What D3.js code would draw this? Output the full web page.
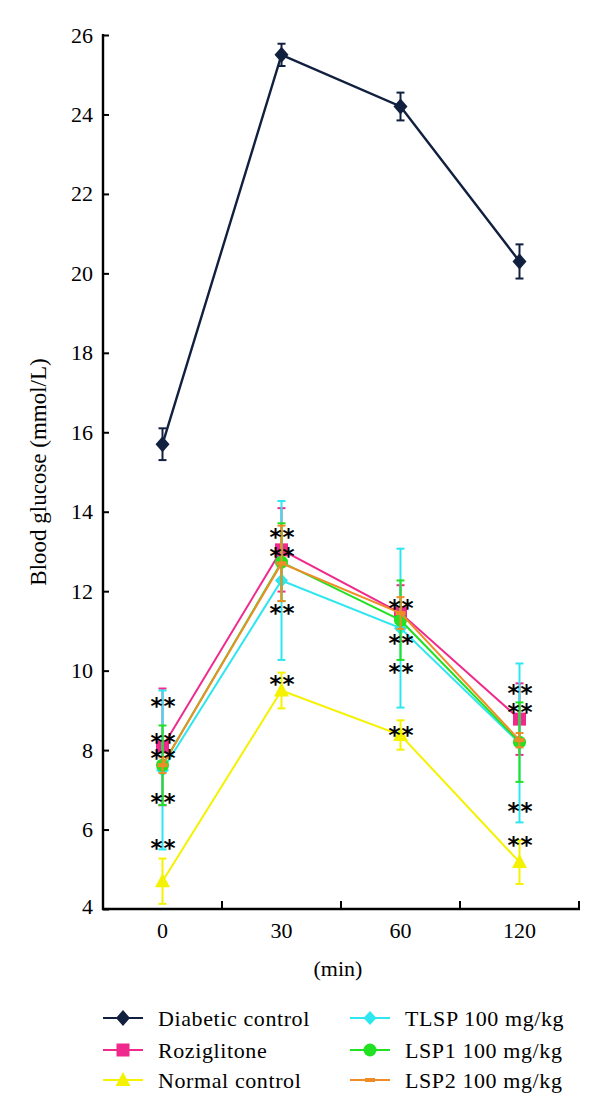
<!DOCTYPE html>
<html><head><meta charset="utf-8">
<script src="https://cdn.jsdelivr.net/npm/d3@7/dist/d3.min.js"></script>
<style>body{margin:0;background:#fff}svg{display:block}</style>
</head><body>
<svg id="c" width="600" height="1115"></svg>
<script>
// ---- data ----
const timeLabels = ["0", "30", "60", "120"];
const yTicks = [4, 6, 8, 10, 12, 14, 16, 18, 20, 22, 24, 26];
const seriesNames = ["Diabetic control", "Roziglitone", "Normal control", "TLSP 100 mg/kg", "LSP1 100 mg/kg", "LSP2 100 mg/kg"];
const diabetic = [15.7, 25.5, 24.2, 20.3];
const diabeticErr = [0.4, 0.28, 0.35, 0.43];
const roziglitone = [8.08, 13.04, 11.45, 8.78];
const roziglitoneErr = [1.47, 1.05, 0.7, 0.9];
const normal = [4.7, 9.5, 8.38, 5.18];
const normalErr = [0.57, 0.45, 0.37, 0.55];
const tlsp = [7.5, 12.27, 11.07, 8.18];
const tlspErr = [2.0, 2.0, 2.0, 2.0];
const lsp1 = [7.62, 12.73, 11.27, 8.2];
const lsp1Err = [1.0, 0.98, 1.0, 1.0];
const lsp2 = [7.62, 12.7, 11.45, 8.25];
const lsp2Err = [0.2, 0.95, 0.4, 0.18];
const annoTimes = ["0","0","0","0","0","30","30","30","30","60","60","60","60","120","120","120","120"];
const annoValues = [9.23, 8.33, 7.93, 6.82, 5.66, 13.49, 13.0, 11.58, 9.79, 11.7, 10.82, 10.09, 8.5, 9.56, 9.08, 6.59, 5.74];

const colors = ["#12203f", "#f02a8c", "#f5f200", "#2de6f0", "#22e022", "#f08c28"];
const shapes = ["diamondL", "square", "triangle", "diamond", "circle", "dash"];
const values = [diabetic, roziglitone, normal, tlsp, lsp1, lsp2];
const errs = [diabeticErr, roziglitoneErr, normalErr, tlspErr, lsp1Err, lsp2Err];
const series = seriesNames.map((n, i) => ({name: n, color: colors[i], shape: shapes[i],
  pts: timeLabels.map((t, j) => ({t, v: values[i][j], e: errs[i][j]}))}));

// ---- layout ----
const svg = d3.select("#c");
const L = 103, R = 579, T = 35, B = 909;
const x = d3.scaleBand().domain(timeLabels).range([L, R]).padding(0);
const y = d3.scaleLinear().domain([4, 26]).range([B, T]);
const cx = t => x(t) + x.bandwidth() / 2;
const serif = "'Liberation Serif','Times New Roman',serif";

// axes
const yAxis = d3.axisLeft(y).tickValues(yTicks).tickSize(-6).tickPadding(10).tickFormat(d3.format("d"));
const gy = svg.append("g").attr("transform", `translate(${L},0)`).call(yAxis);
gy.select(".domain").remove();
gy.selectAll("line").attr("stroke", "#000").attr("stroke-width", 2);
gy.selectAll("text").attr("font-family", serif).attr("font-size", 22).attr("fill", "#000");
gy.selectAll(".tick").filter(d => d === 4).select("text").attr("dy", "0.2em");
svg.append("line").attr("x1", L).attr("x2", L).attr("y1", T - 1).attr("y2", B + 1).attr("stroke", "#000").attr("stroke-width", 2.4);

const xAxis = d3.axisBottom(x).tickSize(0).tickPadding(13);
const gx = svg.append("g").attr("transform", `translate(0,${B})`).call(xAxis);
gx.select(".domain").remove();
gx.selectAll("text").attr("font-family", serif).attr("font-size", 22).attr("fill", "#000");
svg.append("line").attr("x1", L - 1).attr("x2", R + 1).attr("y1", B).attr("y2", B).attr("stroke", "#000").attr("stroke-width", 2.4);
// boundary ticks
svg.selectAll(".xb").data(timeLabels).enter().append("line")
  .attr("x1", d => x(d) + x.bandwidth()).attr("x2", d => x(d) + x.bandwidth())
  .attr("y1", B).attr("y2", B - 8).attr("stroke", "#000").attr("stroke-width", 2);

svg.append("text").attr("transform", `translate(46,${(T + B) / 2}) rotate(-90)`)
  .attr("text-anchor", "middle").attr("font-family", serif).attr("font-size", 23).text("Blood glucose (mmol/L)");
svg.append("text").attr("x", (L + R) / 2 - 3).attr("y", 976).attr("text-anchor", "middle")
  .attr("font-family", serif).attr("font-size", 22).text("(min)");

function marker(g, shape, color) {
  if (shape === "diamondL") g.append("path").attr("d", "M0,-8L7,0L0,8L-7,0Z").attr("fill", color);
  else if (shape === "diamond") g.append("path").attr("d", "M0,-7L6.5,0L0,7L-6.5,0Z").attr("fill", color);
  else if (shape === "square") g.append("rect").attr("x", -6.5).attr("y", -6.5).attr("width", 13).attr("height", 13).attr("fill", color);
  else if (shape === "triangle") g.append("path").attr("d", "M0,-8L7.5,6L-7.5,6Z").attr("fill", color);
  else if (shape === "circle") g.append("circle").attr("r", 6.5).attr("fill", color);
  else if (shape === "dash") g.append("rect").attr("x", -5).attr("y", -2).attr("width", 10).attr("height", 4).attr("fill", color);
}

const line = d3.line().x(d => cx(d.t)).y(d => y(d.v));
series.forEach((s, i) => {
  const g = svg.append("g");
  g.append("path").datum(s.pts).attr("d", line).attr("fill", "none").attr("stroke", s.color).attr("stroke-width", i === 0 ? 2.4 : 2);
  s.pts.forEach(p => {
    const X = cx(p.t);
    g.append("line").attr("x1", X).attr("x2", X).attr("y1", y(p.v + p.e)).attr("y2", y(p.v - p.e)).attr("stroke", s.color).attr("stroke-width", 2);
    [p.v + p.e, p.v - p.e].forEach(v => g.append("line").attr("x1", X - 4).attr("x2", X + 4).attr("y1", y(v)).attr("y2", y(v)).attr("stroke", s.color).attr("stroke-width", 2));
  });
  s.pts.forEach(p => marker(g.append("g").attr("transform", `translate(${cx(p.t)},${y(p.v)})`), s.shape, s.color));
});

// significance marks
svg.selectAll(".ast").data(annoTimes.map((t, i) => ({t, v: annoValues[i]}))).enter().append("text")
  .attr("x", d => cx(d.t) + 1).attr("y", d => y(d.v) + 13).attr("text-anchor", "middle")
  .attr("font-family", "'DejaVu Sans',sans-serif").attr("font-weight", "bold").attr("font-size", 23)
  .attr("letter-spacing", 1).text("**");

// legend
const legX = [103, 350], legY = [1018, 1050, 1080];
series.forEach((s, i) => {
  const lx = legX[Math.floor(i / 3)], ly = legY[i % 3];
  const g = svg.append("g");
  g.append("line").attr("x1", lx).attr("x2", lx + 40).attr("y1", ly).attr("y2", ly).attr("stroke", s.color).attr("stroke-width", 2);
  marker(g.append("g").attr("transform", `translate(${lx + 20},${ly})`), s.shape, s.color);
  g.append("text").attr("x", lx + 55).attr("y", ly + 8).attr("font-family", serif).attr("font-size", 22)
    .attr("letter-spacing", 0.6).text(s.name);
});
</script>
</body></html>
